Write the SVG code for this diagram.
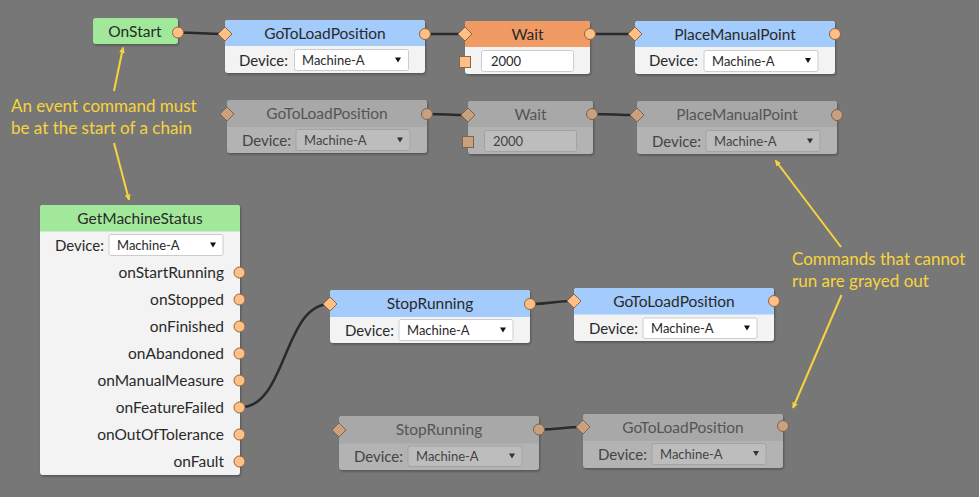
<svg xmlns="http://www.w3.org/2000/svg" width="979" height="497" viewBox="0 0 979 497">
<defs>
<style>
text{font-family:Lato,"Noto Sans","Liberation Sans",sans-serif}
.bodyA{fill:#f3f3f3}
.bodyG{fill:#b3b3b3}
.hBlue{fill:#a3cbfb}
.hGreen{fill:#a2e89b}
.hOrange{fill:#f19b64}
.hGray{fill:#a8a8a8}
.title{font-size:15.5px;fill:#2a2a2a;text-anchor:middle}
.titleG{font-size:15.5px;fill:#555;text-anchor:middle}
.lbl{font-size:15px;fill:#2a2a2a;text-anchor:end}
.lblG{font-size:15px;fill:#444;text-anchor:end}
.out{font-size:15.5px;fill:#2a2a2a;text-anchor:end}
.sel{fill:#fff;stroke:#cccccc;stroke-width:1}
.selG{fill:#bdbdbd;stroke:#a3a3a3;stroke-width:1}
.selT{font-size:13px;fill:#2a2a2a}
.selTG{font-size:13px;fill:#444}
.tri{fill:#111}
.triG{fill:#333}
.port{fill:#ffbf85;stroke:#8f6440;stroke-width:1}
.portG{fill:#c9a17e;stroke:#7a6350;stroke-width:1}
.conn{fill:none;stroke:#2a2a2a;stroke-width:2.5}
.note{font-size:17px;fill:#f7d43c}
.arr{stroke:#f7d43c;stroke-width:2;fill:none}
</style>
<filter id="sh" x="-5%" y="-5%" width="115%" height="120%">
<feDropShadow dx="1" dy="1.5" stdDeviation="1" flood-color="#000" flood-opacity="0.3"/>
</filter>
<marker id="ah" viewBox="0 0 10 10" refX="9" refY="5" markerWidth="6" markerHeight="6" markerUnits="userSpaceOnUse" orient="auto">
<path d="M0,0 L10,5 L0,10 z" fill="#f7d43c"/>
</marker>
</defs>
<rect x="0" y="0" width="979" height="497" fill="#777777"/>

<g id="connectors">
<path class="conn" d="M178,32.5 C200,32.5 203,34 225,34"/>
<path class="conn" d="M425,34 C445,34 445,34 465,34"/>
<path class="conn" d="M590,34 C612,34 613,34 635,34"/>
<path class="conn" d="M427,114 C447,114 448,115 468,115"/>
<path class="conn" d="M592,114 C614,114 615,115 637,115"/>
<path class="conn" d="M240,407.5 C287,407.5 283,304 330,304"/>
<path class="conn" d="M530,304 C552,304 552,301 574,301"/>
<path class="conn" d="M539,429.5 C561,429.5 561,427 583,427"/>
</g>

<g id="onstart">
<rect x="93" y="18" width="85" height="26" rx="3" class="hGreen" filter="url(#sh)"/>
<text class="title" x="135" y="36.5">OnStart</text>
<circle class="port" cx="178" cy="32.5" r="5.5"/>
</g>

<g id="gotoload1">
<rect x="225" y="20" width="200" height="53" rx="3" class="bodyA" filter="url(#sh)"/>
<path class="hBlue" d="M225,23 a3,3 0 0 1 3,-3 h194 a3,3 0 0 1 3,3 v23 h-200 z"/>
<text class="title" x="325" y="39">GoToLoadPosition</text>
<text class="lbl" x="288" y="65.5">Device:</text>
<rect class="sel" x="294.5" y="49.5" width="114" height="21" rx="2"/>
<text class="selT" x="302" y="64.5">Machine-A</text>
<polygon class="tri" points="395,57.5 401,57.5 398,62.5"/>
<polygon class="port" points="218,34 225,27 232,34 225,41"/>
<circle class="port" cx="425" cy="34" r="5.5"/>
</g>

<g id="wait1">
<rect x="465" y="21" width="125" height="53" rx="3" class="bodyA" filter="url(#sh)"/>
<path class="hOrange" d="M465,24 a3,3 0 0 1 3,-3 h119 a3,3 0 0 1 3,3 v23 h-125 z"/>
<text class="title" x="527.5" y="40">Wait</text>
<rect class="sel" x="481.5" y="50.5" width="92" height="21" rx="2"/>
<text class="selT" x="491" y="65.5">2000</text>
<rect class="port" x="459.5" y="56.5" width="11" height="11"/>
<polygon class="port" points="458,34 465,27 472,34 465,41"/>
<circle class="port" cx="590" cy="34" r="5.5"/>
</g>

<g id="placemanual1">
<rect x="635" y="21" width="200" height="53" rx="3" class="bodyA" filter="url(#sh)"/>
<path class="hBlue" d="M635,24 a3,3 0 0 1 3,-3 h194 a3,3 0 0 1 3,3 v23 h-200 z"/>
<text class="title" x="735" y="40">PlaceManualPoint</text>
<text class="lbl" x="698" y="66">Device:</text>
<rect class="sel" x="704" y="50.5" width="114" height="21" rx="2"/>
<text class="selT" x="712" y="65.5">Machine-A</text>
<polygon class="tri" points="805,58 811,58 808,63"/>
<polygon class="port" points="628,34 635,27 642,34 635,41"/>
<circle class="port" cx="835" cy="34" r="5.5"/>
</g>

<g id="gotoload2">
<rect x="227" y="100" width="200" height="53" rx="3" class="bodyG" filter="url(#sh)"/>
<path class="hGray" d="M227,103 a3,3 0 0 1 3,-3 h194 a3,3 0 0 1 3,3 v24 h-200 z"/>
<text class="titleG" x="327" y="119">GoToLoadPosition</text>
<text class="lblG" x="291" y="146">Device:</text>
<rect class="selG" x="296" y="129.5" width="114" height="21" rx="2"/>
<text class="selTG" x="304" y="144.5">Machine-A</text>
<polygon class="triG" points="397,137.5 403,137.5 400,142.5"/>
<polygon class="portG" points="220,114 227,107 234,114 227,121"/>
<circle class="portG" cx="427" cy="114" r="5.5"/>
</g>

<g id="wait2">
<rect x="468" y="101" width="125" height="53" rx="3" class="bodyG" filter="url(#sh)"/>
<path class="hGray" d="M468,104 a3,3 0 0 1 3,-3 h119 a3,3 0 0 1 3,3 v23 h-125 z"/>
<text class="titleG" x="530.5" y="120">Wait</text>
<rect class="selG" x="484.5" y="130.5" width="92" height="21" rx="2"/>
<text class="selTG" x="493" y="146">2000</text>
<rect class="portG" x="462.5" y="136.5" width="11" height="11"/>
<polygon class="portG" points="461,115 468,108 475,115 468,122"/>
<circle class="portG" cx="592" cy="114" r="5.5"/>
</g>

<g id="placemanual2">
<rect x="637" y="101" width="200" height="53" rx="3" class="bodyG" filter="url(#sh)"/>
<path class="hGray" d="M637,104 a3,3 0 0 1 3,-3 h194 a3,3 0 0 1 3,3 v23 h-200 z"/>
<text class="titleG" x="737" y="120">PlaceManualPoint</text>
<text class="lblG" x="701" y="146.5">Device:</text>
<rect class="selG" x="706" y="130.5" width="114" height="21" rx="2"/>
<text class="selTG" x="714" y="146">Machine-A</text>
<polygon class="triG" points="807,138.5 813,138.5 810,143.5"/>
<polygon class="portG" points="630,115 637,108 644,115 637,122"/>
<circle class="portG" cx="837" cy="115" r="5.5"/>
</g>

<g id="getmachinestatus">
<rect x="40" y="205" width="200" height="270" rx="3" class="bodyA" filter="url(#sh)"/>
<path class="hGreen" d="M40,208 a3,3 0 0 1 3,-3 h194 a3,3 0 0 1 3,3 v23.5 h-200 z"/>
<text class="title" x="140" y="223.5">GetMachineStatus</text>
<text class="lbl" x="104" y="250.5">Device:</text>
<rect class="sel" x="109" y="234.5" width="114" height="21" rx="2"/>
<text class="selT" x="117" y="249.5">Machine-A</text>
<polygon class="tri" points="210,242.5 216,242.5 213,247.5"/>
<text class="out" x="224" y="278">onStartRunning</text>
<text class="out" x="224" y="305">onStopped</text>
<text class="out" x="224" y="332">onFinished</text>
<text class="out" x="224" y="359">onAbandoned</text>
<text class="out" x="224" y="386">onManualMeasure</text>
<text class="out" x="224" y="413">onFeatureFailed</text>
<text class="out" x="224" y="440">onOutOfTolerance</text>
<text class="out" x="224" y="467">onFault</text>
<circle class="port" cx="239.5" cy="272.5" r="5.5"/>
<circle class="port" cx="239.5" cy="299.5" r="5.5"/>
<circle class="port" cx="239.5" cy="326.5" r="5.5"/>
<circle class="port" cx="239.5" cy="353.5" r="5.5"/>
<circle class="port" cx="239.5" cy="380.5" r="5.5"/>
<circle class="port" cx="239.5" cy="407.5" r="5.5"/>
<circle class="port" cx="239.5" cy="434.5" r="5.5"/>
<circle class="port" cx="239.5" cy="461.5" r="5.5"/>
</g>

<g id="stoprunning1">
<rect x="330" y="290" width="200" height="53" rx="3" class="bodyA" filter="url(#sh)"/>
<path class="hBlue" d="M330,293 a3,3 0 0 1 3,-3 h194 a3,3 0 0 1 3,3 v24 h-200 z"/>
<text class="title" x="430" y="309">StopRunning</text>
<text class="lbl" x="394" y="335.5">Device:</text>
<rect class="sel" x="399" y="319.5" width="114" height="21" rx="2"/>
<text class="selT" x="407" y="334.5">Machine-A</text>
<polygon class="tri" points="500,327.5 506,327.5 503,332.5"/>
<polygon class="port" points="323,304 330,297 337,304 330,311"/>
<circle class="port" cx="530" cy="304" r="5.5"/>
</g>

<g id="gotoload3">
<rect x="574" y="288" width="200" height="53" rx="3" class="bodyA" filter="url(#sh)"/>
<path class="hBlue" d="M574,291 a3,3 0 0 1 3,-3 h194 a3,3 0 0 1 3,3 v23.5 h-200 z"/>
<text class="title" x="674" y="306.5">GoToLoadPosition</text>
<text class="lbl" x="638" y="333.5">Device:</text>
<rect class="sel" x="643" y="318" width="114" height="20.5" rx="2"/>
<text class="selT" x="651" y="333">Machine-A</text>
<polygon class="tri" points="744,325.5 750,325.5 747,330.5"/>
<polygon class="port" points="567,301 574,294 581,301 574,308"/>
<circle class="port" cx="774" cy="301" r="5.5"/>
</g>

<g id="stoprunning2">
<rect x="339" y="416" width="200" height="54" rx="3" class="bodyG" filter="url(#sh)"/>
<path class="hGray" d="M339,419 a3,3 0 0 1 3,-3 h194 a3,3 0 0 1 3,3 v24.5 h-200 z"/>
<text class="titleG" x="439" y="435">StopRunning</text>
<text class="lblG" x="403" y="462">Device:</text>
<rect class="selG" x="408" y="446" width="114" height="20.5" rx="2"/>
<text class="selTG" x="416" y="461">Machine-A</text>
<polygon class="triG" points="509,453.5 515,453.5 512,458.5"/>
<polygon class="portG" points="332,430 339,423 346,430 339,437"/>
<circle class="portG" cx="539" cy="429.5" r="5.5"/>
</g>

<g id="gotoload4">
<rect x="583" y="414" width="200" height="54" rx="3" class="bodyG" filter="url(#sh)"/>
<path class="hGray" d="M583,417 a3,3 0 0 1 3,-3 h194 a3,3 0 0 1 3,3 v24 h-200 z"/>
<text class="titleG" x="683" y="433">GoToLoadPosition</text>
<text class="lblG" x="647" y="459.5">Device:</text>
<rect class="selG" x="652" y="443.5" width="114" height="21" rx="2"/>
<text class="selTG" x="660" y="458.5">Machine-A</text>
<polygon class="triG" points="753,451 759,451 756,456"/>
<polygon class="portG" points="576,427 583,420 590,427 583,434"/>
<circle class="portG" cx="783" cy="426" r="5.5"/>
</g>

<g id="note-event">
<text class="note" x="11" y="111.5">An event command must</text>
<text class="note" x="11" y="133.5">be at the start of a chain</text>
<line class="arr" x1="114" y1="91" x2="123" y2="47.5" marker-end="url(#ah)"/>
<line class="arr" x1="114" y1="143" x2="129" y2="200" marker-end="url(#ah)"/>
</g>

<g id="note-grayed">
<text class="note" x="792" y="265">Commands that cannot</text>
<text class="note" x="792" y="287">run are grayed out</text>
<line class="arr" x1="841" y1="247" x2="775.5" y2="160.5" marker-end="url(#ah)"/>
<line class="arr" x1="841.5" y1="295" x2="793" y2="408" marker-end="url(#ah)"/>
</g>
</svg>
